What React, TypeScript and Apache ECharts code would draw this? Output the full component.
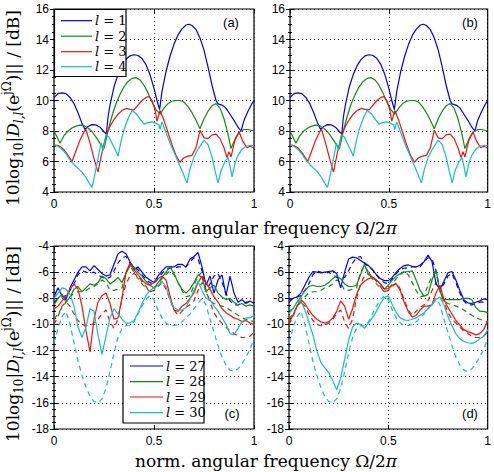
import React, { useEffect, useRef } from "react";
import * as echarts from "echarts";

// ---- Panels (a) and (b): l = 1..4, pairs of [Ω/2π, dB] ----
const L1: number[][] = [
  [0, 10.2], [0.02, 10.45], [0.04, 10.5], [0.06, 10.45], [0.08, 10.2], [0.1, 9.8], [0.12, 9.2],
  [0.14, 8.5], [0.155, 8.1], [0.17, 8.3], [0.19, 8.42], [0.21, 8.4], [0.23, 8.25], [0.25, 7.95],
  [0.262, 7.8], [0.27, 8.9], [0.28, 9.7], [0.3, 10.9], [0.32, 11.7], [0.34, 12.3], [0.36, 12.7],
  [0.38, 12.93], [0.4, 13.0], [0.42, 12.95], [0.44, 12.75], [0.46, 12.35], [0.48, 11.7], [0.5, 10.8],
  [0.515, 10.0], [0.528, 9.4], [0.54, 10.6], [0.56, 11.9], [0.58, 12.9], [0.6, 13.7], [0.62, 14.3],
  [0.64, 14.7], [0.66, 14.95], [0.675, 15.0], [0.69, 14.92], [0.71, 14.65], [0.73, 14.1], [0.75, 13.3],
  [0.77, 12.2], [0.79, 11.0], [0.81, 10.0], [0.82, 9.78], [0.84, 9.7], [0.86, 9.5], [0.88, 9.1],
  [0.9, 8.7], [0.92, 8.25], [0.935, 8.0], [0.95, 8.7], [0.97, 9.3], [0.99, 9.8], [1, 10.0],
];
const L2: number[][] = [
  [0, 8.0], [0.015, 7.6], [0.03, 7.2], [0.05, 7.7], [0.07, 8.0], [0.09, 8.2], [0.11, 8.32],
  [0.13, 8.38], [0.15, 8.35], [0.17, 8.2], [0.19, 7.95], [0.21, 7.6], [0.23, 7.2], [0.25, 6.85],
  [0.27, 8.0], [0.29, 9.0], [0.31, 9.8], [0.33, 10.4], [0.35, 10.9], [0.37, 11.25], [0.39, 11.45],
  [0.41, 11.5], [0.43, 11.35], [0.45, 11.0], [0.47, 10.5], [0.49, 9.9], [0.51, 9.4], [0.53, 9.1],
  [0.55, 9.5], [0.57, 9.8], [0.59, 9.95], [0.61, 10.0], [0.63, 10.0], [0.65, 9.9], [0.67, 9.6],
  [0.69, 9.2], [0.71, 8.7], [0.73, 8.15], [0.75, 8.8], [0.77, 9.3], [0.79, 9.65], [0.81, 9.8],
  [0.83, 9.5], [0.85, 8.8], [0.87, 7.8], [0.885, 6.85], [0.91, 7.6], [0.93, 7.95], [0.95, 8.1],
  [0.97, 8.1], [1, 8.0],
];
const L3: number[][] = [
  [0, 7.1], [0.02, 7.05], [0.04, 6.9], [0.06, 6.6], [0.08, 6.2], [0.09, 6.0], [0.11, 6.7],
  [0.13, 7.4], [0.15, 7.95], [0.16, 8.1], [0.18, 7.2], [0.2, 6.2], [0.22, 5.3], [0.24, 6.6],
  [0.26, 7.7], [0.28, 8.3], [0.3, 8.75], [0.32, 9.1], [0.34, 9.35], [0.36, 9.48], [0.38, 9.42],
  [0.4, 9.38], [0.42, 9.7], [0.44, 10.0], [0.46, 10.2], [0.475, 10.25], [0.49, 10.0], [0.505, 9.4],
  [0.515, 8.65], [0.53, 9.35], [0.55, 8.7], [0.57, 7.9], [0.59, 7.1], [0.61, 6.4], [0.63, 5.95],
  [0.65, 6.25], [0.67, 6.35], [0.69, 6.4], [0.71, 6.9], [0.73, 8.05], [0.75, 7.55], [0.77, 7.5],
  [0.79, 7.75], [0.81, 7.8], [0.83, 7.5], [0.85, 6.9], [0.865, 6.25], [0.875, 6.65], [0.885, 6.3],
  [0.905, 7.4], [0.925, 7.95], [0.945, 7.3], [0.965, 6.9], [0.98, 7.0], [1, 6.9],
];
const L4: number[][] = [
  [0, 7.05], [0.02, 7.0], [0.04, 6.8], [0.06, 6.5], [0.08, 6.1], [0.1, 5.8], [0.12, 5.55],
  [0.14, 5.3], [0.16, 4.95], [0.175, 4.6], [0.19, 4.3], [0.205, 5.2], [0.22, 6.2], [0.235, 7.2],
  [0.245, 6.7], [0.26, 7.75], [0.275, 7.6], [0.29, 7.2], [0.305, 6.8], [0.32, 6.35], [0.335, 7.3],
  [0.35, 8.1], [0.37, 8.8], [0.39, 9.35], [0.41, 9.15], [0.43, 8.8], [0.45, 8.45], [0.47, 8.55],
  [0.49, 8.6], [0.51, 8.5], [0.525, 8.4], [0.53, 8.1], [0.54, 8.6], [0.56, 7.9], [0.58, 7.2],
  [0.6, 6.6], [0.62, 6.0], [0.64, 5.4], [0.655, 4.9], [0.665, 4.6], [0.68, 5.5], [0.7, 6.3],
  [0.72, 6.8], [0.74, 7.2], [0.75, 7.4], [0.77, 7.1], [0.79, 6.3], [0.805, 5.4], [0.82, 4.6],
  [0.835, 5.4], [0.855, 6.0], [0.87, 6.25], [0.88, 5.7], [0.89, 5.0], [0.905, 5.9], [0.92, 6.4],
  [0.94, 6.8], [0.96, 7.0], [0.98, 7.05], [1, 7.05],
];

// ---- Panels (c) and (d): l = 27..30 on a common frequency grid ----
const FREQ: number[] = [
  0, 0.02, 0.04, 0.06, 0.08, 0.1, 0.12, 0.14, 0.16, 0.18, 0.2, 0.22, 0.24, 0.26, 0.28, 0.3, 0.32,
  0.34, 0.36, 0.38, 0.4, 0.42, 0.44, 0.46, 0.48, 0.5, 0.52, 0.54, 0.56, 0.58, 0.6, 0.62, 0.64, 0.66,
  0.68, 0.7, 0.72, 0.74, 0.76, 0.78, 0.8, 0.82, 0.84, 0.86, 0.88, 0.9, 0.92, 0.94, 0.96, 0.98, 1,
];

// panel (c), solid
const C27 = [
  -7.9, -7.2, -7.8, -8.1, -7.2, -6.6, -6.0, -5.6, -5.6, -5.9, -5.5, -5.8, -6.1, -6.3, -6.2, -5.4, -4.6,
  -4.4, -4.6, -5.2, -5.8, -5.6, -6.0, -6.4, -6.6, -6.8, -6.3, -5.9, -5.6, -5.6, -5.6, -5.4, -5.4, -5.6,
  -5.0, -4.8, -4.5, -5.6, -7.0, -6.3, -7.6, -6.6, -6.2, -7.8, -6.3, -7.6, -8.3, -8.1, -8.4, -8.2, -8.4,
];
const C28 = [
  -8.5, -8.0, -7.7, -8.3, -7.9, -7.3, -7.1, -7.5, -7.2, -6.9, -7.0, -6.8, -6.3, -6.5, -6.9, -6.7, -6.4,
  -6.8, -6.1, -5.5, -5.6, -6.0, -6.3, -6.7, -7.0, -7.2, -6.8, -6.4, -6.0, -5.6, -6.1, -6.8, -7.3, -7.6,
  -7.3, -6.8, -6.2, -6.4, -7.5, -7.2, -7.0, -7.6, -7.9, -8.1, -8.0, -8.3, -8.5, -8.4, -8.6, -8.5, -8.6,
];
const C29 = [
  -8.8, -8.6, -8.2, -7.9, -7.3, -6.9, -7.3, -8.6, -10.5, -12.1, -9.6, -8.3, -7.8, -7.6, -8.4, -9.6, -9.5,
  -8.0, -6.0, -5.3, -5.8, -6.2, -6.6, -6.9, -7.0, -6.8, -6.5, -6.3, -6.6, -7.8, -8.9, -9.0, -8.6, -8.4,
  -8.0, -7.6, -6.8, -6.3, -6.8, -7.3, -7.9, -8.3, -8.8, -9.1, -9.3, -9.5, -9.6, -9.8, -9.7, -9.9, -10.0,
];
const C30 = [
  -8.0, -7.6, -7.2, -7.3, -7.7, -8.6, -10.2, -11.0, -10.2, -8.8, -9.0, -10.8, -12.3, -10.9, -9.5, -8.8, -9.2,
  -9.6, -9.9, -9.9, -9.7, -9.1, -8.4, -7.8, -7.4, -7.2, -7.0, -6.7, -7.1, -8.1, -8.7, -8.9, -8.9, -8.7,
  -8.1, -7.4, -6.7, -7.4, -8.0, -8.1, -8.6, -9.0, -9.5, -10.0, -10.7, -10.8, -10.3, -9.8, -9.5, -9.5, -9.3,
];

// panel (d), solid
const D27 = [
  -8.1, -8.0, -7.9, -7.6, -7.0, -6.4, -5.95, -6.0, -6.05, -6.0, -5.95, -5.9, -6.1, -7.2, -6.0, -5.0, -4.85,
  -4.9, -5.1, -5.3, -5.5, -5.8, -6.2, -6.5, -6.65, -6.65, -6.4, -6.0, -5.7, -5.5, -5.45, -5.55, -5.6, -5.45,
  -5.2, -4.7, -5.2, -6.9, -7.3, -6.7, -6.05, -5.95, -6.6, -7.4, -8.1, -8.35, -8.4, -8.3, -8.2, -8.05, -8.1,
];
const D28 = [
  -9.0, -8.8, -8.3, -7.9, -7.4, -7.1, -7.0, -7.1, -7.1, -7.0, -6.8, -6.5, -6.3, -6.5, -6.9, -7.1, -7.1,
  -7.0, -6.2, -5.4, -6.2, -6.4, -6.6, -6.9, -7.3, -7.0, -6.6, -6.3, -6.1, -6.0, -5.95, -5.9, -6.6, -7.4,
  -7.85, -7.7, -6.6, -5.8, -7.5, -8.1, -8.1, -8.1, -8.1, -8.1, -8.0, -8.0, -8.1, -8.7, -9.0, -9.0, -9.1,
];
const D29 = [
  -9.9, -9.3, -8.6, -8.1, -8.4, -8.9, -9.3, -9.6, -9.8, -9.9, -9.8, -9.5, -9.0, -8.2, -8.6, -9.6, -8.8,
  -7.7, -7.0, -6.7, -6.5, -6.4, -6.6, -6.9, -7.3, -7.25, -7.0, -6.9, -7.4, -8.3, -9.0, -9.45, -9.3, -8.9,
  -8.6, -8.6, -8.5, -7.6, -7.0, -8.1, -8.7, -9.2, -9.7, -10.05, -10.4, -10.55, -10.65, -10.8, -10.7, -10.4, -9.7,
];
const D30 = [
  -9.2, -8.8, -8.3, -8.2, -8.9, -9.8, -10.8, -12.0, -12.9, -13.3, -13.7, -14.3, -15.0, -14.1, -12.7, -11.2, -10.2,
  -9.9, -10.0, -10.3, -9.9, -9.5, -9.0, -8.4, -7.95, -7.8, -8.5, -9.1, -9.5, -9.65, -9.7, -9.6, -9.5, -9.3,
  -9.1, -8.8, -8.5, -8.1, -7.9, -8.5, -9.4, -10.1, -10.7, -11.1, -11.3, -11.4, -11.45, -11.35, -11.1, -10.9, -10.4,
];

// dashed curves, drawn in both (c) and (d)
const R27 = [
  -8.3, -8.0, -7.9, -7.8, -7.4, -6.9, -6.2, -5.9, -6.0, -6.1, -6.0, -6.2, -6.4, -6.5, -6.4, -5.9, -5.3,
  -4.9, -4.8, -5.3, -5.6, -5.8, -6.2, -6.6, -6.8, -6.9, -6.5, -6.1, -5.8, -5.7, -5.7, -5.6, -5.6, -5.6,
  -5.2, -4.9, -5.0, -5.9, -7.4, -6.9, -6.3, -6.1, -6.8, -7.6, -8.2, -8.5, -8.5, -8.4, -8.3, -8.3, -8.3,
];
const R28 = [
  -9.6, -9.2, -8.7, -8.3, -7.9, -7.6, -7.5, -7.5, -7.4, -7.2, -7.1, -6.9, -6.6, -6.8, -7.4, -7.4, -7.3,
  -7.2, -6.0, -5.5, -6.0, -6.5, -6.9, -7.2, -7.5, -7.3, -6.9, -6.5, -6.2, -5.9, -6.2, -6.8, -7.4, -7.9,
  -7.8, -7.0, -6.3, -6.0, -7.5, -8.2, -8.4, -8.5, -8.6, -8.7, -8.9, -9.1, -9.3, -9.5, -9.6, -9.7, -9.8,
];
const R29 = [
  -10.0, -9.4, -8.6, -8.3, -8.6, -9.2, -9.7, -10.0, -10.1, -10.1, -9.9, -9.6, -9.2, -8.9, -9.8, -10.3, -9.6,
  -8.0, -6.9, -6.3, -6.1, -6.3, -6.7, -7.1, -7.5, -7.4, -7.1, -6.8, -7.3, -8.1, -8.9, -9.3, -9.0, -8.7,
  -8.5, -8.2, -7.4, -6.8, -7.4, -8.3, -9.1, -9.6, -9.9, -10.2, -10.5, -10.7, -10.9, -11.0, -11.0, -10.9, -10.6,
];
const R30 = [
  -11.4, -10.3, -9.4, -9.0, -10.0, -11.4, -12.8, -13.9, -14.8, -15.5, -15.9, -16.0, -15.7, -14.9, -13.6, -12.2, -11.0,
  -10.3, -10.1, -10.1, -9.8, -9.2, -8.6, -8.1, -7.8, -8.1, -8.9, -9.5, -9.9, -10.1, -10.1, -10.0, -9.8, -9.5,
  -9.2, -8.8, -8.4, -8.0, -8.5, -9.6, -10.6, -11.6, -12.5, -13.1, -13.5, -13.6, -13.4, -13.0, -12.5, -11.9, -11.1,
];

const TOP_NAMES = ["1", "2", "3", "4"];
const BOTTOM_NAMES = ["27", "28", "29", "30"];
const TOP_TICKS = { min: 4, max: 16, interval: 2 };
const BOTTOM_TICKS = { min: -18, max: -4, interval: 2 };
const PANEL_TAGS = ["(a)", "(b)", "(c)", "(d)"];

const COLORS = ["#0000ee", "#128a12", "#ee1111", "#14bfbf"];
const SERIF = "DejaVu Serif";
const SANS = "Liberation Sans";

const GRIDS = [
  { left: 54, top: 9, width: 200, height: 183 },
  { left: 290, top: 9, width: 200, height: 183 },
  { left: 54, top: 246, width: 200, height: 183 },
  { left: 289, top: 246, width: 201, height: 183 },
];

function pairs(values: number[]): number[][] {
  return FREQ.map((f, i) => [f, values[i]]);
}

function titleRich(lineHeight: number) {
  const base = { fontFamily: SERIF, fill: "#000", lineHeight };
  return {
    n: { ...base, fontSize: 17, verticalAlign: "middle" },
    s: { ...base, fontSize: 12, verticalAlign: "bottom" },
    p: { ...base, fontSize: 12, verticalAlign: "top" },
    i: { ...base, fontSize: 17, fontStyle: "italic", verticalAlign: "middle" },
    si: { ...base, fontSize: 12, fontStyle: "italic", verticalAlign: "bottom" },
  };
}

function buildOption() {
  const gridCfg = GRIDS.map((g) => ({
    ...g,
    show: true,
    borderColor: "#000",
    borderWidth: 1.2,
    backgroundColor: "transparent",
  }));

  const tickStyle = { color: "#000", width: 1 };
  const xAxes: any[] = [];
  const yAxes: any[] = [];
  GRIDS.forEach((_, i) => {
    xAxes.push({
      type: "value",
      gridIndex: i,
      min: 0,
      max: 1,
      interval: 0.5,
      position: "bottom",
      axisLine: { show: false },
      axisTick: { show: true, inside: true, length: 4, lineStyle: tickStyle },
      axisLabel: { color: "#000", fontSize: 12, fontFamily: SANS, margin: 6 },
      splitLine: { show: true, lineStyle: { color: "#333", width: 1, type: [1, 3] } },
    });
  });
  GRIDS.forEach((_, i) => {
    xAxes.push({
      type: "value",
      gridIndex: i,
      min: 0,
      max: 1,
      interval: 0.5,
      position: "top",
      axisLine: { show: false },
      axisTick: { show: true, inside: true, length: 4, lineStyle: tickStyle },
      axisLabel: { show: false },
      splitLine: { show: false },
    });
  });
  GRIDS.forEach((_, i) => {
    const t = i < 2 ? TOP_TICKS : BOTTOM_TICKS;
    yAxes.push({
      type: "value",
      gridIndex: i,
      ...t,
      position: "left",
      axisLine: { show: false },
      axisTick: { show: true, inside: true, length: 4, lineStyle: tickStyle },
      minorTick: { show: true, splitNumber: 4, length: 2, lineStyle: tickStyle },
      axisLabel: { color: "#000", fontSize: 12, fontFamily: SANS, margin: 5 },
      splitLine: { show: true, lineStyle: { color: "#333", width: 1, type: [1, 3] } },
    });
  });
  GRIDS.forEach((_, i) => {
    const t = i < 2 ? TOP_TICKS : BOTTOM_TICKS;
    yAxes.push({
      type: "value",
      gridIndex: i,
      ...t,
      position: "right",
      axisLine: { show: false },
      axisTick: { show: true, inside: true, length: 4, lineStyle: tickStyle },
      minorTick: { show: true, splitNumber: 4, length: 2, lineStyle: tickStyle },
      axisLabel: { show: false },
      splitLine: { show: false },
    });
  });

  const series: any[] = [];
  const line = (name: string, panel: number, data: number[][], color: string, dashed: boolean) => ({
    type: "line",
    name,
    xAxisIndex: panel,
    yAxisIndex: panel,
    data,
    symbol: "none",
    showSymbol: false,
    silent: true,
    z: dashed ? 2 : 3,
    lineStyle: { color, width: 1.2, type: dashed ? [5, 4] : "solid" },
    itemStyle: { color },
  });

  const top = [L1, L2, L3, L4];
  [0, 1].forEach((p) => {
    top.forEach((d, k) => series.push(line("l = " + TOP_NAMES[k], p, d, COLORS[k], false)));
  });
  const dashed = [R27, R28, R29, R30];
  const solidC = [C27, C28, C29, C30];
  const solidD = [D27, D28, D29, D30];
  [2, 3].forEach((p) => {
    dashed.forEach((d, k) => series.push(line("l = " + BOTTOM_NAMES[k] + " ", p, pairs(d), COLORS[k], true)));
    (p === 2 ? solidC : solidD).forEach((d, k) =>
      series.push(line("l = " + BOTTOM_NAMES[k], p, pairs(d), COLORS[k], false))
    );
  });

  const yTitle = "{n|10log}{s|10}{n||}{i|D}{si|l,l}{n|(e}{p|jΩ}{n|)|| / [dB]}";
  const xTitle = "{n|norm. angular frequency Ω/2}{i|π}";

  const graphic: any[] = [];
  [108, 344].forEach((cy) =>
    graphic.push({
      type: "text",
      x: 13,
      y: cy,
      rotation: Math.PI / 2,
      z: 100,
      style: { text: yTitle, rich: titleRich(24), align: "center", verticalAlign: "middle" },
    })
  );
  [228, 461].forEach((cy) =>
    graphic.push({
      type: "text",
      x: 266,
      y: cy,
      z: 100,
      style: { text: xTitle, rich: titleRich(20), align: "center", verticalAlign: "middle" },
    })
  );
  const tagPos = [
    [231, 22],
    [470, 22],
    [232, 413],
    [470, 413],
  ];
  PANEL_TAGS.forEach((t, i) =>
    graphic.push({
      type: "text",
      x: tagPos[i][0],
      y: tagPos[i][1],
      z: 100,
      style: { text: t, fontFamily: SANS, fontSize: 13, fill: "#000", align: "center", verticalAlign: "middle" },
    })
  );

  const legendRich = {
    i: { fontFamily: SERIF, fontSize: 13, fontStyle: "italic", fill: "#000" },
    n: { fontFamily: SERIF, fontSize: 13, fill: "#000" },
  };
  const legends = [
    { box: [54.5, 9.5, 71.5, 67], rows: [20.7, 36.2, 51.7, 66.7], lx: [61, 92], tx: 95, names: TOP_NAMES },
    { box: [123, 355, 81, 68], rows: [366, 381.7, 397, 412.7], lx: [130, 163], tx: 166, names: BOTTOM_NAMES },
  ];
  legends.forEach((lg) => {
    graphic.push({
      type: "rect",
      z: 100,
      shape: { x: lg.box[0], y: lg.box[1], width: lg.box[2], height: lg.box[3] },
      style: { fill: "#fff", stroke: "#000", lineWidth: 1.2 },
    });
    lg.rows.forEach((ry, k) => {
      graphic.push({
        type: "line",
        z: 101,
        shape: { x1: lg.lx[0], y1: ry, x2: lg.lx[1], y2: ry },
        style: { stroke: COLORS[k], lineWidth: 1.2 },
      });
      graphic.push({
        type: "text",
        z: 101,
        x: lg.tx,
        y: ry,
        style: { text: "{i|l}{n| = " + lg.names[k] + "}", rich: legendRich, align: "left", verticalAlign: "middle" },
      });
    });
  });

  return {
    animation: false,
    backgroundColor: "#fff",
    grid: gridCfg,
    xAxis: xAxes,
    yAxis: yAxes,
    series,
    graphic,
  };
}

export default function App() {
  const ref = useRef<HTMLDivElement>(null);
  useEffect(() => {
    if (!ref.current) return;
    const chart = echarts.init(ref.current, undefined, { renderer: "svg" });
    chart.setOption(buildOption() as any);
    return () => chart.dispose();
  }, []);
  return (
    <div
      ref={ref}
      style={{ position: "absolute", left: 0, top: 0, width: 494, height: 472, background: "#fff" }}
    />
  );
}
